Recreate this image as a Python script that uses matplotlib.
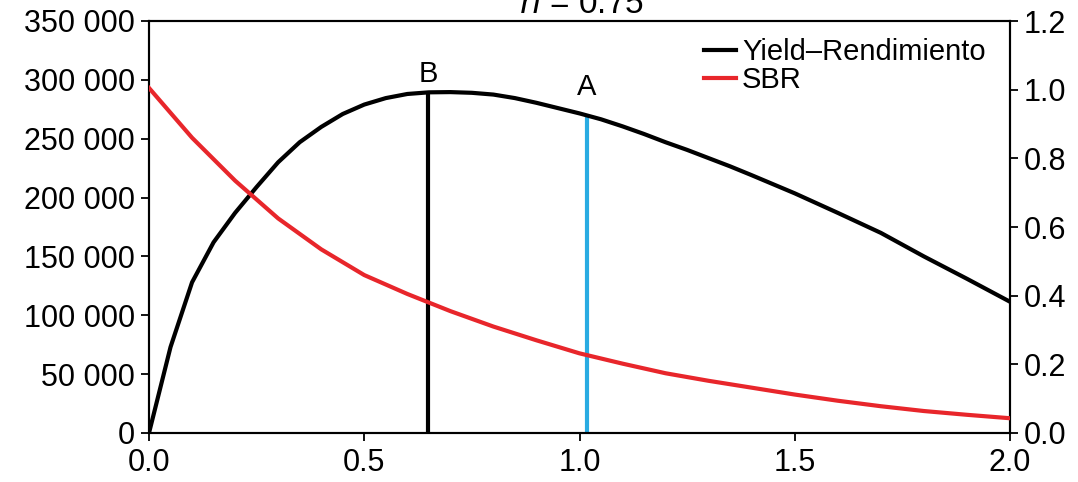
import matplotlib
matplotlib.use("Agg")
import matplotlib.pyplot as plt
from matplotlib.ticker import FuncFormatter

plt.rcParams['font.family'] = ['Liberation Sans', 'DejaVu Sans']

# Data
yield_x = [0.0, 0.05, 0.1, 0.15, 0.2, 0.25, 0.3, 0.35, 0.4, 0.45, 0.5, 0.55,
           0.6, 0.65, 0.7, 0.75, 0.8, 0.85, 0.9, 0.95, 1.0, 1.05, 1.1, 1.15,
           1.2, 1.25, 1.3, 1.35, 1.4, 1.5, 1.6, 1.7, 1.8, 1.9, 2.0]
yield_vals = [0, 73000, 128000, 162000, 187000, 209000, 230000, 247000, 260000,
              271000, 279000, 284500, 288000, 289400, 289600, 289000, 287500,
              284500, 280500, 276000, 271500, 266500, 260500, 254000, 247000,
              240500, 233500, 226500, 219000, 203600, 187000, 170000, 150000,
              131000, 111500]
sbr_x = [0.0, 0.1, 0.2, 0.3, 0.4, 0.5, 0.6, 0.7, 0.8, 0.9, 1.0, 1.1, 1.2, 1.3,
         1.4, 1.5, 1.6, 1.7, 1.8, 1.9, 2.0]
sbr_vals = [1.005, 0.86, 0.735, 0.625, 0.535, 0.46, 0.405, 0.355, 0.31, 0.27,
            0.232, 0.202, 0.174, 0.152, 0.132, 0.112, 0.094, 0.078, 0.064,
            0.053, 0.043]
ref_labels = ["B", "A"]
ref_x = [0.648, 1.017]
ref_yield = [289400, 270000]
ref_label_y = [298000, 287000]
ref_colors = ["black", "#29abe2"]
left_ticks = [0, 50000, 100000, 150000, 200000, 250000, 300000, 350000]
right_ticks = [0.0, 0.2, 0.4, 0.6, 0.8, 1.0, 1.2]
x_ticks = [0.0, 0.5, 1.0, 1.5, 2.0]
title_text = "$h$ = 0.75"

fig = plt.figure(figsize=(10.78, 4.82), dpi=100)
ax = fig.add_axes([149/1078, 49/482, (1010-149)/1078, (433-21)/482])
ax2 = ax.twinx()

ax.plot(yield_x, yield_vals, color="black", lw=3, label="Yield\u2013Rendimiento",
        zorder=3, solid_joinstyle="round")
ax2.plot(sbr_x, sbr_vals, color="#e8262b", lw=3, label="SBR", zorder=3,
         solid_joinstyle="round")

for lab, xv, yv, ly, c in zip(ref_labels, ref_x, ref_yield, ref_label_y, ref_colors):
    ax.vlines(xv, 0, yv, color=c, lw=3, zorder=2)
    ax.text(xv, ly, lab, ha="center", va="baseline", fontsize=21)

ax.set_xlim(0, 2.0)
ax.set_ylim(0, 350000)
ax2.set_ylim(0, 1.2)
ax.set_xticks(x_ticks)
ax.set_yticks(left_ticks)
ax2.set_yticks(right_ticks)
ax.xaxis.set_major_formatter(FuncFormatter(lambda v, p: f"{v:.1f}"))
ax.yaxis.set_major_formatter(FuncFormatter(lambda v, p: f"{int(v):,}".replace(",", " ")))
ax2.yaxis.set_major_formatter(FuncFormatter(lambda v, p: f"{v:.1f}"))

for a in (ax, ax2):
    for s in a.spines.values():
        s.set_linewidth(1.5)
    a.tick_params(labelsize=22, width=1.3, length=6, direction="out", pad=4)
ax.tick_params(axis="x", pad=5)

h1, l1 = ax.get_legend_handles_labels()
h2, l2 = ax2.get_legend_handles_labels()
ax.legend(h1 + h2, l1 + l2, loc="upper right", frameon=False, fontsize=21,
          handlelength=1.1, handletextpad=0.2, labelspacing=0.0,
          borderaxespad=0.2, bbox_to_anchor=(0.992, 1.0))

fig.text(581/1078, 1 - 13/482, title_text, ha="center", va="baseline", fontsize=24)

fig.savefig("out.png", dpi=100)
